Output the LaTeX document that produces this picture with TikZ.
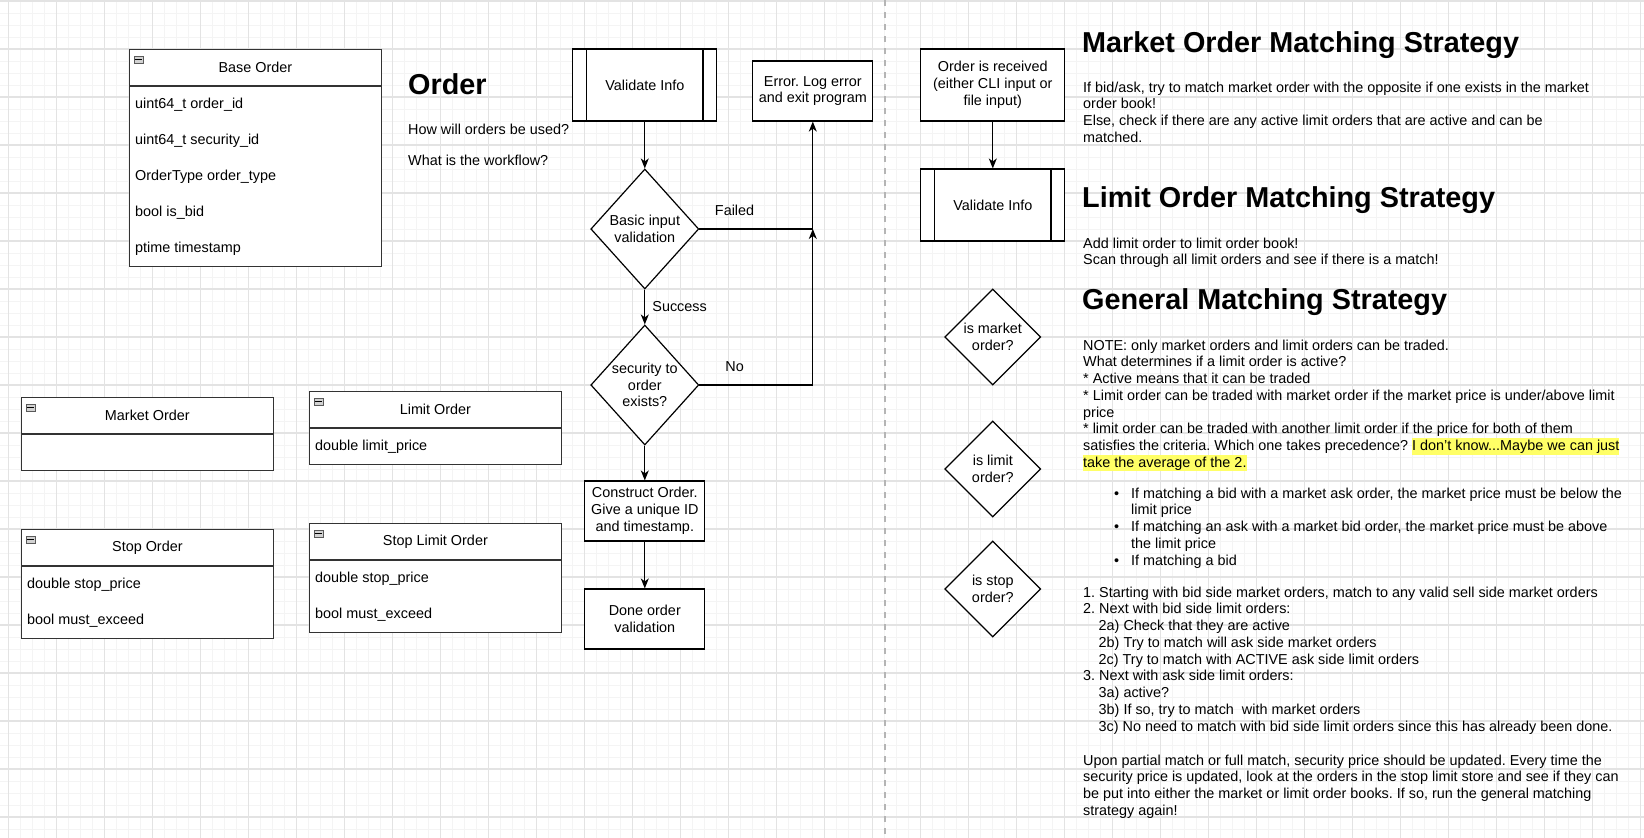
\documentclass[tikz,border=0pt]{standalone}
\usepackage{fontspec}
\setmainfont{Liberation Sans}
\setsansfont{Liberation Sans}
\usepackage{tikz}
\usetikzlibrary{arrows.meta,positioning,shapes.geometric}
\usepackage{xcolor}

\definecolor{gridminor}{HTML}{F4F4F4}
\definecolor{gridmajor}{HTML}{E3E3E3}
\definecolor{splitgray}{HTML}{B5B5B5}
\definecolor{hlyellow}{HTML}{FFFF66}
\definecolor{boxline}{HTML}{333333}

\newcommand{\hlmark}[1]{{\setlength{\fboxsep}{0pt}\colorbox{hlyellow}{\rule[-4pt]{0pt}{16.75pt}#1}}}
\frenchspacing

\begin{document}
\begin{tikzpicture}[x=1pt, y=-1pt, font=\sffamily\fontsize{14.4}{16.75}\selectfont,
    minorline/.style={draw=gridminor, line width=1pt},
    majorline/.style={draw=gridmajor, line width=1.2pt},
    classhead/.style={draw=boxline, line width=1.2pt, fill=white, anchor=north west,
        minimum width=252pt, minimum height=36pt, inner sep=0pt},
    classbody/.style={draw=boxline, line width=1.2pt, fill=white, anchor=north west,
        minimum width=252pt, inner sep=0pt},
    field/.style={anchor=base west, inner sep=0pt},
    procbox/.style={draw, line width=1.2pt, fill=white, align=center, inner sep=2pt,
        minimum width=120pt, minimum height=60pt},
    subproc/.style={procbox, minimum width=144pt, minimum height=72pt},
    decision/.style={draw, diamond, line width=1.2pt, fill=white, inner sep=0pt},
    flow/.style={line width=1.2pt, -{Stealth[length=10pt, width=8pt, inset=3pt]}},
    heading/.style={anchor=base west, inner sep=0pt,
        font=\sffamily\bfseries\fontsize{28.8}{34}\selectfont},
    note/.style={anchor=north west, inner sep=0pt, align=left},
    edgelabel/.style={inner sep=0pt}
]

    \useasboundingbox (0,0) rectangle (1644,838);

    % 1. Background grid
    \fill[white] (0,0) rectangle (1644,838);
    \foreach \i in {0,...,136} \draw[minorline] ({8.8+12*\i},0) -- ++(0,838);
    \foreach \j in {0,...,69} \draw[minorline] (0,{1+12*\j}) -- ++(1644,0);
    \foreach \i in {0,...,34} \draw[majorline] ({8.8+48*\i},0) -- ++(0,838);
    \foreach \j in {0,...,17} \draw[majorline] (0,{1+48*\j}) -- ++(1644,0);

    % 2. Order classes
    \node[classhead] (base) at (128.8,49) {Base Order};
    \node[classbody, minimum height=180pt] (basebody) at (base.south west) {};
    \node[field] at (135,108) {uint64\_t order\_id};
    \node[field] at (135,144) {uint64\_t security\_id};
    \node[field] at (135,180) {OrderType order\_type};
    \node[field] at (135,216) {bool is\_bid};
    \node[field] at (135,252) {ptime timestamp};

    \node[classhead] (market) at (20.8,397) {Market Order};
    \node[classbody, minimum height=36pt] (marketbody) at (market.south west) {};

    \node[classhead] (limit) at (308.8,391) {Limit Order};
    \node[classbody, minimum height=36pt] (limitbody) at (limit.south west) {};
    \node[field] at (315,450) {double limit\_price};

    \node[classhead] (stop) at (20.8,529) {Stop Order};
    \node[classbody, minimum height=72pt] (stopbody) at (stop.south west) {};
    \node[field] at (27,588) {double stop\_price};
    \node[field] at (27,624) {bool must\_exceed};

    \node[classhead] (stoplimit) at (308.8,523) {Stop Limit Order};
    \node[classbody, minimum height=72pt] (stoplimitbody) at (stoplimit.south west) {};
    \node[field] at (315,582) {double stop\_price};
    \node[field] at (315,618) {bool must\_exceed};

    % collapse icons
    \foreach \c in {base,market,limit,stop,stoplimit} {
        \draw[fill=gray!35, draw=gray!70!black, line width=0.6pt]
            ([xshift=5pt,yshift=-7pt]\c.north west) rectangle ++(9,7);
        \draw[line width=1.6pt] ([xshift=6pt,yshift=-10.5pt]\c.north west) -- ++(7,0);
    }

    % 3. Order notes
    \node[heading] (ordertitle) at (408,94) {Order};
    \node[note] (orderq) at (408,122.3) {\strut How will orders be used?\\[14.25pt]What is the workflow?};

    % 4. Validation flow
    \node[subproc] (vi) at (644.8,85) {Validate Info};
    \node[procbox] (err) at (812.8,91) {Error. Log error\\and exit program};
    \node[decision, minimum width=108pt, minimum height=120pt,
        label={[align=center]center:Basic input\\validation}] (bv) at (644.8,229) {};
    \node[decision, minimum width=108pt, minimum height=120pt,
        label={[align=center]center:security to\\order\\exists?}] (sec) at (644.8,385) {};
    \node[procbox] (build) at (644.8,511) {Construct Order.\\Give a unique ID\\and timestamp.};
    \node[procbox] (done) at (644.8,619) {Done order\\validation};
    \coordinate (jn) at (812.8,229);

    \draw[flow] (vi) -- (bv);
    \draw[flow] (bv.east) -- node[pos=.31, above=13pt, edgelabel] {Failed} (jn) -- (err);
    \draw[flow] (bv) -- node[midway, right=7pt, edgelabel] {Success} (sec);
    \draw[flow] (sec.east) -- node[pos=.31, above=13pt, edgelabel] {No} (sec.east -| jn) -- (jn);
    \draw[flow] (sec) -- (build);
    \draw[flow] (build) -- (done);

    % 5. Divider
    \draw[splitgray, line width=2pt, dash pattern=on 6pt off 6pt] (884.8,0) -- (884.8,838);

    % 6. Matching flow
    \node[procbox, minimum width=144pt, minimum height=72pt] (recv) at (992.8,85)
        {Order is received\\(either CLI input or\\file input)};
    \node[subproc] (vi2) at (992.8,205) {Validate Info};
    \draw[flow] (recv) -- (vi2);

    \foreach \n in {vi,vi2} {
        \draw[line width=1.2pt] ([xshift=14.4pt]\n.north west) -- ([xshift=14.4pt]\n.south west);
        \draw[line width=1.2pt] ([xshift=-14.4pt]\n.north east) -- ([xshift=-14.4pt]\n.south east);
    }

    \node[decision, minimum width=96pt, minimum height=96pt,
        label={[align=center]center:is market\\order?}] (ismkt) at (992.8,337) {};
    \node[decision, minimum width=96pt, minimum height=96pt,
        label={[align=center]center:is limit\\order?}] (islim) at (992.8,469) {};
    \node[decision, minimum width=96pt, minimum height=96pt,
        label={[align=center]center:is stop\\order?}] (isstop) at (992.8,589) {};

    % 7. Strategy notes
    \node[heading] (mkttitle) at (1082,52) {Market Order Matching Strategy};
    \node[note] (mkttext) at (1083,80.3) {\strut If bid/ask, try to match market order with the opposite if one exists in the market\\
        order book!\\
        Else, check if there are any active limit orders that are active and can be\\
        matched.};

    \node[heading] (limtitle) at (1082,207) {Limit Order Matching Strategy};
    \node[note] (limtext) at (1083,236.3) {\strut Add limit order to limit order book!\\
        Scan through all limit orders and see if there is a match!};

    \node[heading] (gentitle) at (1082,309) {General Matching Strategy};
    \node[note] (gentext) at (1083,338.3) {\strut NOTE: only market orders and limit orders can be traded.\\
        What determines if a limit order is active?\\
        * Active means that it can be traded\\
        * Limit order can be traded with market order if the market price is under/above limit\\
        price\\
        * limit order can be traded with another limit order if the price for both of them\\
        satisfies the criteria. Which one takes precedence? \hlmark{I don't know...Maybe we can just}\\
        \hlmark{take the average of the 2.}};

    \node[note] (genbullets) at (1131,486.3) {\strut\llap{\textbullet\hspace{12pt}}If matching a bid with a market ask order, the market price must be below the\\
        limit price\\
        \llap{\textbullet\hspace{12pt}}If matching an ask with a market bid order, the market price must be above\\
        the limit price\\
        \llap{\textbullet\hspace{12pt}}If matching a bid};

    \node[note] (gensteps) at (1083,585.3) {\strut 1. Starting with bid side market orders, match to any valid sell side market orders\\
        2. Next with bid side limit orders:\\
        \hspace*{15.5pt}2a) Check that they are active\\
        \hspace*{15.5pt}2b) Try to match will ask side market orders\\
        \hspace*{15.5pt}2c) Try to match with ACTIVE ask side limit orders\\
        3. Next with ask side limit orders:\\
        \hspace*{15.5pt}3a) active?\\
        \hspace*{15.5pt}3b) If so, try to match\ \ with market orders\\
        \hspace*{15.5pt}3c) No need to match with bid side limit orders since this has already been done.};

    \node[note] (genupdate) at (1083,753.3) {\strut Upon partial match or full match, security price should be updated. Every time the\\
        security price is updated, look at the orders in the stop limit store and see if they can\\
        be put into either the market or limit order books. If so, run the general matching\\
        strategy again!};

\end{tikzpicture}
\end{document}
